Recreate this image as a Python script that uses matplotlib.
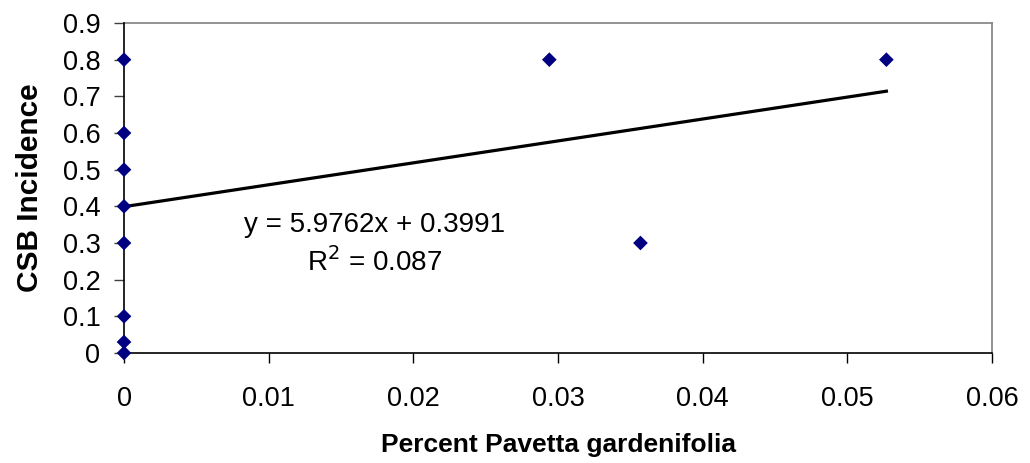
import numpy as np
from matplotlib import pyplot as plt
from matplotlib.ticker import FuncFormatter

plt.rcParams['font.family'] = ['Liberation Sans', 'DejaVu Sans']

# percent Pavetta gardenifolia vs CSB incidence
pavetta = [0, 0, 0, 0, 0, 0, 0, 0, 0.0294, 0.0357, 0.0527]
csb = [0.8, 0.6, 0.5, 0.4, 0.3, 0.1, 0.03, 0, 0.8, 0.3, 0.8]

slope = 5.9762
intercept = 0.3991
r2 = 0.087

x_ticks = [0, 0.01, 0.02, 0.03, 0.04, 0.05, 0.06]
y_ticks = [0, 0.1, 0.2, 0.3, 0.4, 0.5, 0.6, 0.7, 0.8, 0.9]


def main():
    fig = plt.figure(figsize=(10.30, 4.63), dpi=100)
    ax = fig.add_axes([0.1204, 0.2376, 0.9631 - 0.1204, 0.9503 - 0.2376])

    xs = np.array([min(pavetta), max(pavetta)])
    ax.plot(xs, slope * xs + intercept, color="black", lw=2.3, zorder=2)
    ax.scatter(pavetta, csb, marker="D", s=56, color="#000080",
               edgecolor="none", zorder=4, clip_on=False)

    ax.set_xlim(0, 0.06)
    ax.set_ylim(0, 0.9)
    ax.set_xticks(x_ticks)
    ax.set_yticks(y_ticks)
    fmt = FuncFormatter(lambda v, p: "%g" % round(v, 4))
    ax.xaxis.set_major_formatter(fmt)
    ax.yaxis.set_major_formatter(fmt)

    for side in ["top", "right"]:
        ax.spines[side].set_color("#808080")
        ax.spines[side].set_linewidth(1.2)
    for side in ["left", "bottom"]:
        ax.spines[side].set_color("black")
        ax.spines[side].set_linewidth(1.2)
        ax.spines[side].set_zorder(3)

    ax.tick_params(axis="x", direction="out", length=7, width=1, pad=17,
                   labelsize=19.5, color="black")
    ax.tick_params(axis="y", direction="out", length=7, width=1, pad=10,
                   labelsize=19.5, color="#404040")

    ax.set_xlabel("Percent Pavetta gardenifolia", fontsize=19,
                  fontweight="bold", va="center")
    ax.xaxis.set_label_coords(0.5, -0.28)
    ax.set_ylabel("CSB Incidence", fontsize=21.5, fontweight="bold",
                  va="center")
    ax.yaxis.set_label_coords(-0.108, 0.5)

    ax.text(0.01735, 0.349, "y = %.4fx + %.4f" % (slope, intercept),
            ha="center", va="center", fontsize=20)
    ax.text(0.01735, 0.249, "R$^2$ = %.3f" % r2,
            ha="center", va="center", fontsize=20)

    fig.savefig("out.png", dpi=100)


if __name__ == "__main__":
    main()
